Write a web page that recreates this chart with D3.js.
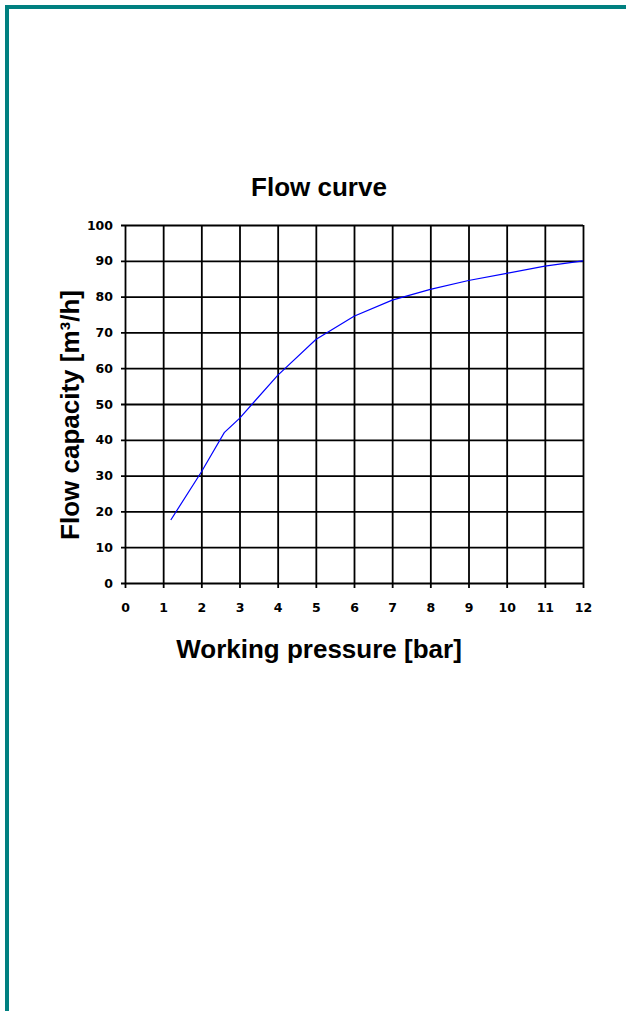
<!DOCTYPE html>
<html>
<head>
<meta charset="utf-8">
<script src="https://cdn.jsdelivr.net/npm/d3@7"></script>
<style>
  html, body { margin: 0; padding: 0; background: #fff; }
  #frame { position: absolute; left: 5px; top: 5px; width: 621px; height: 1006px;
           border-left: 4px solid #008080; border-top: 4px solid #008080; box-sizing: border-box; }
  #chart { position: absolute; left: 0; top: 0; }
  .tick text { font-family: "DejaVu Sans", sans-serif; font-weight: bold; font-size: 12.5px; fill: #000; }
  .lbl { font-family: "Liberation Sans", Arial, sans-serif; font-weight: bold; font-size: 26px; fill: #000; }
</style>
</head>
<body>
<div id="frame"></div>
<div id="chart"></div>
<script>
// working pressure [bar] vs flow capacity [m3/h]
const pressure = [1.2, 2, 2.6, 3, 4, 5, 6, 7, 8, 9, 10, 11, 12];
const flow = [17.6, 31, 42, 46, 58, 68, 74.5, 79, 82, 84.5, 86.5, 88.5, 90];

const xTicks = [0, 1, 2, 3, 4, 5, 6, 7, 8, 9, 10, 11, 12];
const yTicks = [0, 10, 20, 30, 40, 50, 60, 70, 80, 90, 100];

const title = "Flow curve";
const xTitle = "Working pressure [bar]";
const yTitle = "Flow capacity [m³/h]";

var margin = {top: 225, left: 125},
    width = 458,
    height = 358;

var svg = d3.select("#chart")
    .append("svg")
        .attr("width", 626)
        .attr("height", 1011);

var g = svg.append("g")
    .attr("transform", "translate(" + margin.left + "," + margin.top + ")");

var x = d3.scaleLinear().domain([0, 12]).range([0, width]);
var y = d3.scaleLinear().domain([0, 100]).range([height, 0]);

// horizontal grid + y labels
var yAxis = g.append("g")
    .call(d3.axisLeft(y).tickValues(yTicks).tickSize(-width).tickPadding(12));
yAxis.select(".domain").remove();
yAxis.selectAll(".tick line")
    .attr("x1", -4)
    .attr("stroke", "#000")
    .attr("stroke-width", 1.8);

// vertical grid + x labels
var xAxis = g.append("g")
    .attr("transform", "translate(0," + height + ")")
    .call(d3.axisBottom(x).tickValues(xTicks).tickSize(-height).tickPadding(0));
xAxis.select(".domain").remove();
xAxis.selectAll(".tick line")
    .attr("y1", 5)
    .attr("stroke", "#000")
    .attr("stroke-width", 1.8);
xAxis.selectAll(".tick text")
    .attr("y", 29)
    .attr("dy", 0);

var line = d3.line()
    .x(function(d, i) { return x(pressure[i]); })
    .y(function(d) { return y(d); });

g.append("path")
    .datum(flow)
    .attr("d", line)
    .attr("fill", "none")
    .attr("stroke", "#0000ff")
    .attr("stroke-width", 1.2);

svg.append("text")
    .attr("class", "lbl")
    .attr("x", 319)
    .attr("y", 196)
    .attr("text-anchor", "middle")
    .text(title);

svg.append("text")
    .attr("class", "lbl")
    .attr("x", 319)
    .attr("y", 658)
    .attr("text-anchor", "middle")
    .text(xTitle);

svg.append("text")
    .attr("class", "lbl")
    .attr("transform", "translate(79,415) rotate(-90)")
    .attr("text-anchor", "middle")
    .text(yTitle);
</script>
</body>
</html>
